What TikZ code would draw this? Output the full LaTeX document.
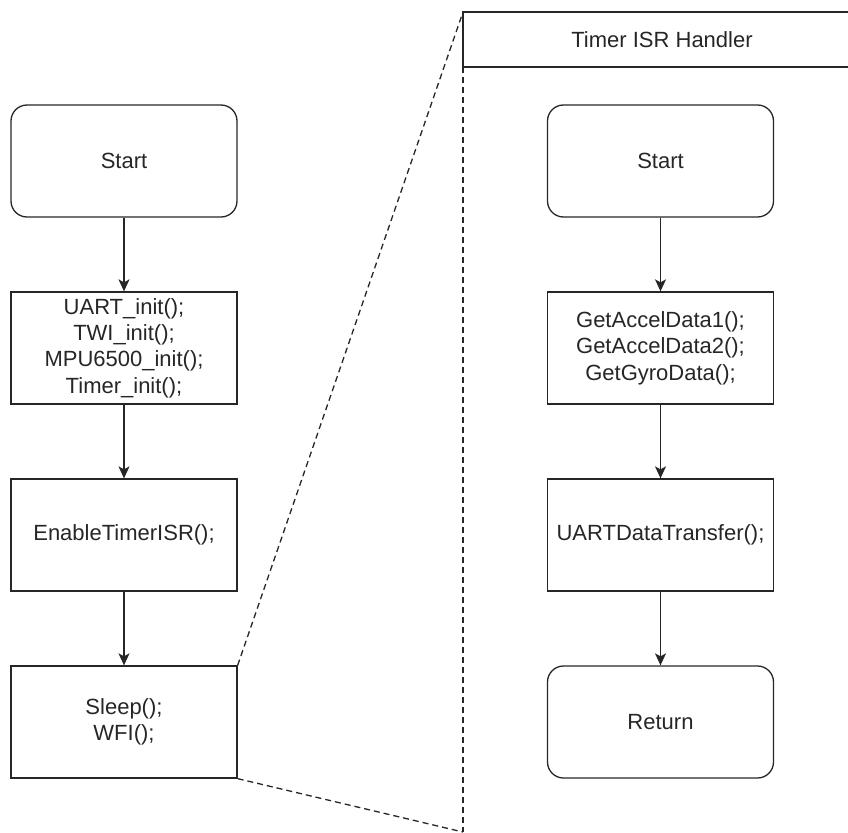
\documentclass[tikz,border=0pt]{standalone}
\usepackage{fontspec}
\setmainfont{Liberation Sans}
\usetikzlibrary{arrows.meta}
\begin{document}
\begin{tikzpicture}[x=1pt,y=-1pt,
  every node/.style={font=\fontsize{22}{26.4}\selectfont, align=center, text=black!85},
  box/.style={draw=black!85, line width=1.3pt, minimum width=226pt, minimum height=112pt, inner sep=0pt},
  term/.style={box, rounded corners=16pt},
  flow/.style={draw=black!85, line width=1.3pt, -{Stealth[length=12pt,width=11pt,inset=3pt]}},
  zoomline/.style={draw=black!85, line width=1.3pt, dash pattern=on 6pt off 4pt},
  frame/.style={draw=black!85, line width=1.3pt}]
\useasboundingbox (0,0) rectangle (848,832);

% main program
\node[term] (start)  at (124,161) {Start};
\node[box]  (init)   at (124,348) {UART\_init();\\TWI\_init();\\MPU6500\_init();\\Timer\_init();};
\node[box]  (enable) at (124,535) {EnableTimerISR();};
\node[box]  (sleep)  at (124,722) {Sleep();\\WFI();};

\draw[flow] (start)  -- (init);
\draw[flow] (init)   -- (enable);
\draw[flow] (enable) -- (sleep);

% interrupt handler panel
\coordinate (hdrTL) at (463,12);
\coordinate (hdrTR) at (848,12);
\coordinate (hdrBL) at (463,67);
\coordinate (hdrBR) at (848,67);
\coordinate (panelBL) at (463,832);
\draw[frame] (hdrTR) -- (hdrTL) -- (hdrBL) -- (hdrBR);
\node (hdr) at (662,39.5) {Timer ISR Handler};
\draw[zoomline] (hdrBL) -- (panelBL);

\node[term] (istart)  at (660.5,161) {Start};
\node[box]  (read)    at (660.5,348) {GetAccelData1();\\GetAccelData2();\\GetGyroData();};
\node[box]  (send)    at (660.5,535) {UARTDataTransfer();};
\node[term] (ret)     at (660.5,722) {Return};

\draw[flow] (istart) -- (read);
\draw[flow] (read)   -- (send);
\draw[flow] (send)   -- (ret);

% zoom lines from the sleep step to the handler panel
\draw[zoomline] (sleep.north east) -- (hdrTL);
\draw[zoomline] (sleep.south east) -- (panelBL);
\end{tikzpicture}
\end{document}
